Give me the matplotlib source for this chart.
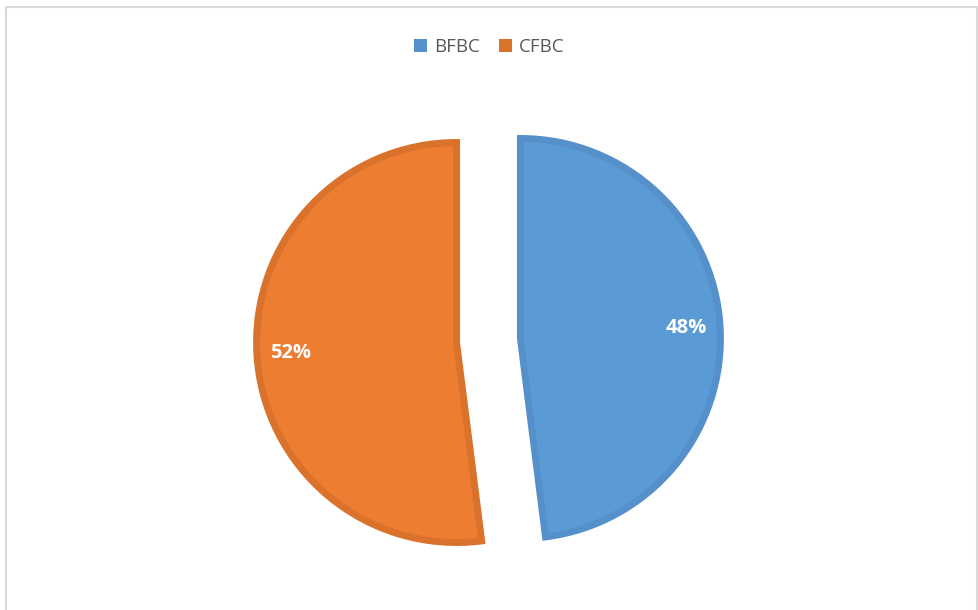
import matplotlib.pyplot as plt
from matplotlib.patches import Rectangle, Patch

labels = ['BFBC', 'CFBC']
shares = [48, 52]
colors = ['#5B9BD5', '#ED7D31']
edges = ['#5590CB', '#DA722C']

plt.rcParams['font.family'] = ['Open Sans', 'DejaVu Sans']

fig = plt.figure(figsize=(9.79, 6.10), dpi=100)
ax = fig.add_axes([0, 0, 1, 1])

wedges, texts, autotexts = ax.pie(
    shares, colors=colors, startangle=90, counterclock=False,
    explode=[0.16, 0.16], radius=1.0, autopct='%1.0f%%', pctdistance=0.83,
    wedgeprops=dict(linewidth=5),
    textprops=dict(color='white', fontsize=14.5, fontweight='bold'))
for w, e in zip(wedges, edges):
    w.set_edgecolor(e)

# map one data unit to 200 px, pie centre at (488.5, 340.5) px
cx, cy, r = 488.5, 340.5, 200.0
ax.set_xlim(-cx / r, (979 - cx) / r)
ax.set_ylim(-(610 - cy) / r, cy / r)
ax.set_aspect('auto')
ax.axis('off')

handles = [Patch(facecolor=c, edgecolor='none') for c in edges]
leg = ax.legend(handles, labels, loc='center', bbox_to_anchor=(0.5, 1 - 47 / 610),
                ncol=2, frameon=False, fontsize=13.5, handlelength=0.68,
                handleheight=0.68, columnspacing=1.0, handletextpad=0.4)
for t in leg.get_texts():
    t.set_color('#595959')

fig.patches.append(Rectangle((6 / 979, -0.05), (977 - 6) / 979, 1.05 - 7 / 610,
                             transform=fig.transFigure, fill=False,
                             edgecolor='#D9D9D9', linewidth=1.5))

fig.savefig('out.png', dpi=100)
